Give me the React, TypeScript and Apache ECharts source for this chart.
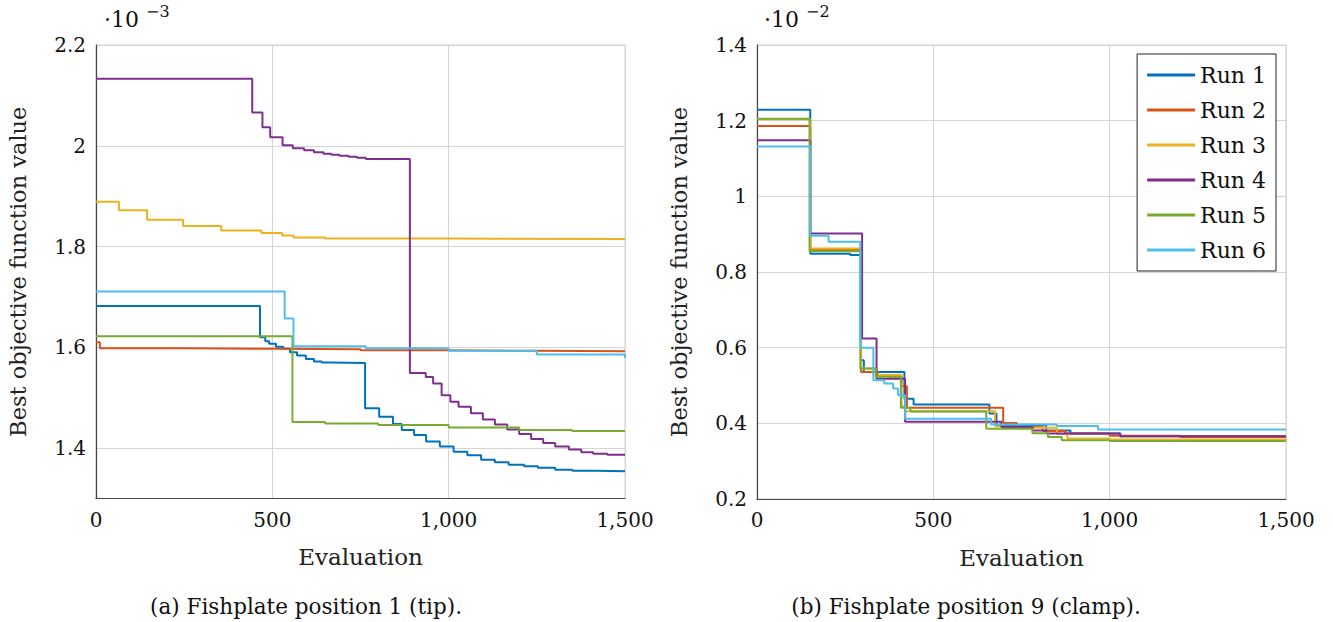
import React, { useEffect, useRef } from "react";
import * as echarts from "echarts";

// ---------- data (left: ×10^-3, right: ×10^-2) ----------
const runNames = ["Run 1", "Run 2", "Run 3", "Run 4", "Run 5", "Run 6"];
const colors = ["#0072BD", "#D95319", "#EDB120", "#7E2F8E", "#77AC30", "#4DBEEE"];

const leftRun1 = [[0,1.682],[465,1.620],[480,1.612],[491,1.607],[510,1.601],[531,1.597],[550,1.590],[570,1.584],[595,1.577],[618,1.572],[640,1.570],[667,1.569],[763,1.479],[803,1.462],[842,1.448],[867,1.436],[902,1.426],[936,1.413],[975,1.403],[1014,1.393],[1053,1.386],[1092,1.377],[1131,1.372],[1170,1.367],[1214,1.364],[1253,1.361],[1302,1.357],[1351,1.355],[1420,1.354],[1500,1.353]];
const leftRun2 = [[0,1.610],[11,1.598],[250,1.597],[500,1.596],[750,1.594],[1000,1.593],[1250,1.592],[1500,1.592]];
const leftRun3 = [[0,1.889],[65,1.872],[145,1.853],[247,1.841],[355,1.832],[469,1.827],[528,1.822],[560,1.818],[650,1.816],[1000,1.815],[1500,1.815]];
const leftRun4 = [[0,2.133],[443,2.066],[472,2.037],[494,2.017],[529,2.001],[558,1.995],[590,1.991],[618,1.987],[645,1.984],[667,1.982],[690,1.980],[716,1.978],[740,1.976],[765,1.974],[890,1.549],[935,1.541],[956,1.528],[980,1.505],[1005,1.492],[1028,1.482],[1063,1.469],[1097,1.457],[1131,1.447],[1166,1.437],[1200,1.428],[1234,1.418],[1268,1.410],[1302,1.403],[1341,1.397],[1376,1.392],[1410,1.389],[1450,1.387],[1500,1.387]];
const leftRun5 = [[0,1.622],[557,1.452],[650,1.449],[800,1.446],[1000,1.441],[1200,1.436],[1350,1.434],[1500,1.433]];
const leftRun6 = [[0,1.711],[535,1.657],[560,1.602],[765,1.598],[1000,1.593],[1250,1.586],[1500,1.579]];

const rightRun1 = [[0,1.229],[151,0.848],[265,0.845],[295,0.567],[303,0.536],[418,0.465],[444,0.450],[659,0.426],[679,0.395],[820,0.381],[889,0.373],[1030,0.366],[1500,0.365]];
const rightRun2 = [[0,1.186],[151,0.858],[295,0.536],[342,0.527],[371,0.523],[410,0.498],[425,0.441],[698,0.401],[737,0.390],[810,0.380],[874,0.373],[1000,0.367],[1200,0.364],[1500,0.363]];
const rightRun3 = [[0,1.204],[151,0.862],[295,0.545],[340,0.528],[410,0.445],[420,0.432],[675,0.392],[700,0.388],[850,0.372],[880,0.360],[1000,0.357],[1500,0.355]];
const rightRun4 = [[0,1.148],[151,0.902],[298,0.624],[339,0.518],[420,0.404],[693,0.390],[781,0.381],[820,0.373],[1030,0.366],[1500,0.365]];
const rightRun5 = [[0,1.205],[149,0.855],[293,0.545],[337,0.523],[408,0.441],[435,0.431],[650,0.386],[781,0.374],[825,0.364],[864,0.355],[1000,0.353],[1500,0.352]];
const rightRun6 = [[0,1.132],[151,0.896],[203,0.880],[293,0.600],[330,0.514],[361,0.505],[386,0.492],[400,0.474],[420,0.412],[664,0.397],[850,0.393],[967,0.384],[1500,0.383]];

const leftRuns = [leftRun1, leftRun2, leftRun3, leftRun4, leftRun5, leftRun6];
const rightRuns = [rightRun1, rightRun2, rightRun3, rightRun4, rightRun5, rightRun6];

const FONT = "DejaVu Serif";

function fmtX(v: number) {
  return v >= 1000 ? `${Math.floor(v / 1000)},${String(v % 1000).padStart(3, "0")}` : String(v);
}

export default function App() {
  const ref = useRef<HTMLDivElement>(null);
  useEffect(() => {
    if (!ref.current) return;
    const chart = echarts.init(ref.current, undefined, { renderer: "svg" });
    const xAxisBase = (gridIndex: number) => ({
      type: "value",
      gridIndex,
      min: 0,
      max: 1500,
      interval: 500,
      name: "Evaluation",
      nameLocation: "middle",
      nameGap: 47,
      nameTextStyle: { fontFamily: FONT, fontSize: 23, color: "#222" },
      axisLine: { show: true, lineStyle: { color: "#444", width: 1.2 } },
      axisTick: { show: false },
      axisLabel: { fontFamily: FONT, fontSize: 20, color: "#111", margin: 11, formatter: (v: number) => fmtX(v) },
      splitLine: { show: true, lineStyle: { color: "#d4d4d4", width: 1 } },
    });
    const yName = {
      name: "Best objective function value",
      nameLocation: "middle",
      nameGap: 67,
      nameTextStyle: { fontFamily: FONT, fontSize: 22.5, color: "#222" },
    };
    const option: any = {
      animation: false,
      backgroundColor: "#fff",
      grid: [
        { left: 96, top: 45, width: 529, height: 453.5, show: true, borderColor: "#d4d4d4", borderWidth: 1, containLabel: false },
        { left: 757, top: 45, width: 529, height: 454, show: true, borderColor: "#d4d4d4", borderWidth: 1, containLabel: false },
      ],
      xAxis: [xAxisBase(0), xAxisBase(1)],
      yAxis: [
        {
          type: "value",
          gridIndex: 0,
          min: 1.3,
          max: 2.2,
          interval: 0.1,
          ...yName,
          axisLine: { show: true, lineStyle: { color: "#444", width: 1.2 } },
          axisTick: { show: false },
          axisLabel: {
            fontFamily: FONT, fontSize: 20, color: "#111", margin: 10,
            formatter: (v: number) => {
              const k = Math.round(v * 10);
              if (k % 2 !== 0) return "";
              return (k / 10).toString();
            },
          },
          splitLine: { show: true, lineStyle: { color: ["transparent", "#d4d4d4"], width: 1 } },
        },
        {
          type: "value",
          gridIndex: 1,
          min: 0.2,
          max: 1.4,
          interval: 0.2,
          ...yName,
          axisLine: { show: true, lineStyle: { color: "#444", width: 1.2 } },
          axisTick: { show: false },
          axisLabel: {
            fontFamily: FONT, fontSize: 20, color: "#111", margin: 10,
            formatter: (v: number) => String(Math.round(v * 10) / 10),
          },
          splitLine: { show: true, lineStyle: { color: "#d4d4d4", width: 1 } },
        },
      ],
      legend: {
        data: runNames,
        orient: "vertical",
        right: 57,
        top: 54,
        backgroundColor: "#fff",
        borderColor: "#222",
        borderWidth: 1,
        borderRadius: 0,
        padding: [10, 10, 10, 10],
        icon: "rect",
        itemWidth: 48,
        itemHeight: 3,
        itemGap: 13,
        textStyle: { fontFamily: FONT, fontSize: 22, color: "#111", lineHeight: 20 },
      },
      series: [
        ...leftRuns.map((d, i) => ({
          name: runNames[i],
          type: "line",
          xAxisIndex: 0,
          yAxisIndex: 0,
          step: "end",
          symbol: "none",
          data: d,
          lineStyle: { color: colors[i], width: 2 },
          itemStyle: { color: colors[i] },
        })),
        ...rightRuns.map((d, i) => ({
          name: runNames[i],
          type: "line",
          xAxisIndex: 1,
          yAxisIndex: 1,
          step: "end",
          symbol: "none",
          data: d,
          lineStyle: { color: colors[i], width: 2 },
          itemStyle: { color: colors[i] },
        })),
      ],
      graphic: [
        { type: "text", left: 104, top: 8, style: { text: "·10", fontFamily: FONT, fontSize: 22, fill: "#111" } },
        { type: "text", left: 146, top: 3, style: { text: "−3", fontFamily: FONT, fontSize: 16, fill: "#111" } },
        { type: "text", left: 764, top: 8, style: { text: "·10", fontFamily: FONT, fontSize: 22, fill: "#111" } },
        { type: "text", left: 806, top: 3, style: { text: "−2", fontFamily: FONT, fontSize: 16, fill: "#111" } },
        { type: "text", x: 306, y: 606, style: { text: "(a) Fishplate position 1 (tip).", fontFamily: FONT, fontSize: 21.5, fill: "#111", textAlign: "center", textVerticalAlign: "middle" } },
        { type: "text", x: 966, y: 606, style: { text: "(b) Fishplate position 9 (clamp).", fontFamily: FONT, fontSize: 21.5, fill: "#111", textAlign: "center", textVerticalAlign: "middle" } },
      ],
    };
    chart.setOption(option);
    return () => chart.dispose();
  }, []);
  return <div ref={ref} style={{ position: "fixed", left: 0, top: 0, width: 1333, height: 622 }} />;
}
